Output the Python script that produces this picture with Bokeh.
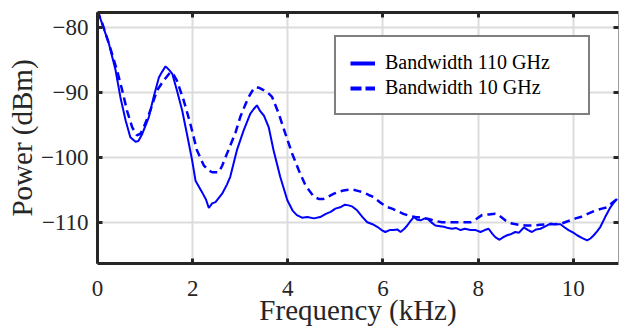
from bokeh.plotting import figure
from bokeh.models import (LinearAxis, Range1d, Legend, LegendItem,
                          FixedTicker, ColumnDataSource)
from bokeh.embed import file_html
from bokeh.resources import INLINE

# ---- data ----
freq_110 = [0.00, 0.10, 0.24, 0.38, 0.48, 0.59, 0.69, 0.80, 0.86, 0.94, 1.08, 1.18, 1.29,
            1.36, 1.43, 1.50, 1.57, 1.67, 1.78, 1.88, 1.99, 2.06, 2.20, 2.28, 2.34, 2.41,
            2.48, 2.62, 2.72, 2.79, 2.93, 3.07, 3.21, 3.28, 3.35, 3.42, 3.50, 3.60, 3.70,
            3.84, 3.99, 4.10, 4.19, 4.30, 4.41, 4.55, 4.68, 4.80, 4.90, 5.00, 5.10, 5.20,
            5.28, 5.36, 5.46, 5.57, 5.67, 5.78, 5.88, 5.97, 6.05, 6.14, 6.22, 6.30, 6.37,
            6.45, 6.51, 6.58, 6.65, 6.72, 6.79, 6.88, 6.96, 7.03, 7.10, 7.20, 7.28, 7.37,
            7.45, 7.54, 7.63, 7.72, 7.84, 7.95, 8.05, 8.14, 8.22, 8.30, 8.36, 8.45, 8.53,
            8.61, 8.70, 8.78, 8.86, 8.96, 9.05, 9.13, 9.22, 9.31, 9.42, 9.52, 9.62, 9.73,
            9.82, 9.90, 10.00, 10.08, 10.18, 10.29, 10.36, 10.43, 10.50, 10.57, 10.67,
            10.78, 10.85, 10.92]
power_110 = [-77.4, -79.5, -82.5, -86.6, -90.7, -94.3, -96.9, -97.6, -97.5, -96.4, -93.8,
             -90.7, -87.7, -86.8, -86.0, -86.5, -87.1, -89.7, -92.8, -96.4, -100.5, -103.6,
             -105.4, -106.5, -107.8, -107.1, -106.9, -105.6, -104.2, -103.0, -98.9, -95.9,
             -93.3, -92.6, -92.0, -92.9, -93.6, -95.4, -98.9, -103.0, -106.6, -108.2,
             -108.9, -109.3, -109.2, -109.4, -109.2, -108.7, -108.4, -107.9, -107.7,
             -107.3, -107.4, -107.6, -108.2, -109.2, -110.0, -110.3, -110.7, -111.2,
             -111.5, -111.2, -111.2, -111.1, -111.5, -111.0, -110.5, -109.8, -109.2,
             -109.6, -109.7, -109.4, -109.6, -110.1, -110.5, -110.6, -110.7, -110.9,
             -111.0, -110.9, -111.2, -111.0, -111.2, -111.2, -111.5, -111.2, -111.0,
             -111.8, -112.3, -112.7, -112.3, -112.0, -111.8, -111.5, -111.6, -110.8,
             -111.2, -111.5, -111.1, -111.0, -110.6, -110.2, -110.3, -110.3, -110.8,
             -111.2, -111.6, -112.0, -112.4, -112.8, -112.5, -112.0, -111.4, -110.7,
             -109.2, -107.7, -107.0, -106.4]

freq_10 = [0.00, 0.12, 0.24, 0.41, 0.52, 0.62, 0.73, 0.83, 0.90, 0.97, 1.11, 1.25, 1.39,
           1.53, 1.60, 1.67, 1.81, 1.95, 2.09, 2.23, 2.33, 2.41, 2.55, 2.62, 2.69, 2.79,
           2.90, 3.00, 3.10, 3.18, 3.25, 3.32, 3.40, 3.50, 3.60, 3.67, 3.81, 3.95, 4.09,
           4.23, 4.37, 4.55, 4.65, 4.75, 4.86, 4.97, 5.07, 5.17, 5.28, 5.38, 5.49, 5.59,
           5.70, 5.80, 5.95, 6.07, 6.19, 6.31, 6.43, 6.55, 6.68, 6.82, 6.96, 7.10, 7.24,
           7.40, 7.56, 7.70, 7.84, 7.96, 8.08, 8.22, 8.36, 8.45, 8.57, 8.71, 8.85, 9.00,
           9.15, 9.30, 9.45, 9.60, 9.75, 9.94, 10.05, 10.15, 10.30, 10.46, 10.60, 10.71,
           10.82, 10.92]
power_10 = [-77.4, -79.8, -82.5, -86.6, -89.7, -92.8, -95.4, -96.6, -96.4, -95.4, -92.8,
            -89.7, -88.2, -86.9, -87.3, -88.2, -91.2, -94.8, -98.9, -101.2, -102.0, -102.3,
            -102.3, -101.3, -100.0, -98.2, -96.2, -93.8, -92.0, -90.7, -89.8, -89.2, -89.3,
            -89.7, -90.2, -90.7, -93.3, -96.4, -99.4, -102.0, -104.3, -106.1, -106.4,
            -106.4, -106.0, -105.6, -105.3, -105.1, -105.0, -105.0, -105.2, -105.4, -105.8,
            -106.1, -107.0, -107.6, -107.9, -108.3, -108.7, -109.0, -109.2, -109.3, -109.5,
            -109.8, -110.0, -110.0, -110.0, -110.0, -110.0, -109.5, -108.9, -108.8, -108.7,
            -109.0, -109.7, -110.2, -110.4, -110.5, -110.5, -110.4, -110.3, -110.3, -110.2,
            -109.7, -109.4, -109.2, -108.7, -108.2, -107.9, -107.7, -107.0, -106.4]

x_ticks = [0, 2, 4, 6, 8, 10]
y_ticks = [-110, -100, -90, -80]
series_labels = ["Bandwidth 110 GHz", "Bandwidth 10 GHz"]
x_title = "Frequency (kHz)"
y_title = "Power (dBm)"

FONT = "Liberation Serif"
DARK = "#262626"
BLUE = "#0000ff"

p = figure(width=619, height=332, output_backend="svg", toolbar_location=None,
           x_range=Range1d(0, 10.95), y_range=Range1d(-116.35, -77.7),
           min_border_left=97, min_border_right=1, min_border_top=12,
           min_border_bottom=69)
p.background_fill_color = "white"
p.border_fill_color = "white"
p.outline_line_color = None

bottom_axis = p.below[0]
left_axis = p.left[0]
top_axis = LinearAxis()
right_axis = LinearAxis()
p.add_layout(top_axis, "above")
p.add_layout(right_axis, "right")


def style_axis(ax, ticks, labels=True):
    ax.ticker = FixedTicker(ticks=ticks)
    ax.axis_line_width = 3
    ax.axis_line_color = DARK
    ax.major_tick_in = 5
    ax.major_tick_out = 0
    ax.major_tick_line_width = 3
    ax.major_tick_line_color = DARK
    ax.minor_tick_line_color = None
    ax.major_label_text_font = FONT
    if labels:
        ax.major_label_text_color = DARK
        ax.major_label_text_font_size = "23px"
        ax.major_label_overrides = {t: (("\u2212" + str(-t)) if t < 0 else str(t)) for t in ticks}
        ax.axis_label_text_font = FONT
        ax.axis_label_text_font_size = "29px"
        ax.axis_label_text_font_style = "normal"
        ax.axis_label_text_color = DARK
    else:
        ax.major_label_text_font_size = "0px"
        ax.major_label_text_color = None
        ax.major_label_standoff = 0


style_axis(bottom_axis, x_ticks)
style_axis(left_axis, y_ticks)
style_axis(top_axis, x_ticks, labels=False)
style_axis(right_axis, y_ticks, labels=False)
right_axis.axis_line_width = 1
right_axis.axis_line_color = "#9a9a9a"

bottom_axis.major_label_standoff = 17
bottom_axis.axis_label = x_title
bottom_axis.axis_label_standoff = -5
left_axis.major_label_standoff = 9
left_axis.axis_label = y_title
left_axis.axis_label_standoff = 0

p.xgrid.ticker = FixedTicker(ticks=x_ticks)
p.ygrid.ticker = FixedTicker(ticks=y_ticks)
for g in (p.xgrid, p.ygrid):
    g.grid_line_color = "#dcdcdc"
    g.grid_line_width = 2

src110 = ColumnDataSource(dict(x=freq_110, y=power_110))
src10 = ColumnDataSource(dict(x=freq_10, y=power_10))
p.line("x", "y", source=src10, line_color=BLUE, line_width=2.5, line_dash="8 5")
p.line("x", "y", source=src110, line_color=BLUE, line_width=2)

# legend-only renderers (thicker sample lines, no visible data)
nan = float("nan")
leg_solid = p.line(x=[nan, nan], y=[nan, nan], line_color=BLUE, line_width=4)
leg_dash = p.line(x=[nan, nan], y=[nan, nan], line_color=BLUE, line_width=4, line_dash="11 4")

legend = Legend(items=[LegendItem(label=series_labels[0], renderers=[leg_solid]),
                       LegendItem(label=series_labels[1], renderers=[leg_dash])],
                location=(237, 148))
legend.label_text_font = FONT
legend.label_text_font_size = "20px"
legend.label_text_color = "black"
legend.border_line_color = "black"
legend.border_line_width = 2
legend.background_fill_color = "white"
legend.background_fill_alpha = 1
legend.padding = 14
legend.margin = 0
legend.spacing = 2
legend.glyph_width = 25
legend.glyph_height = 20
legend.label_height = 20
legend.label_width = 189
legend.label_standoff = 10
p.add_layout(legend)

open("out.html", "w").write(file_html(p, INLINE))
